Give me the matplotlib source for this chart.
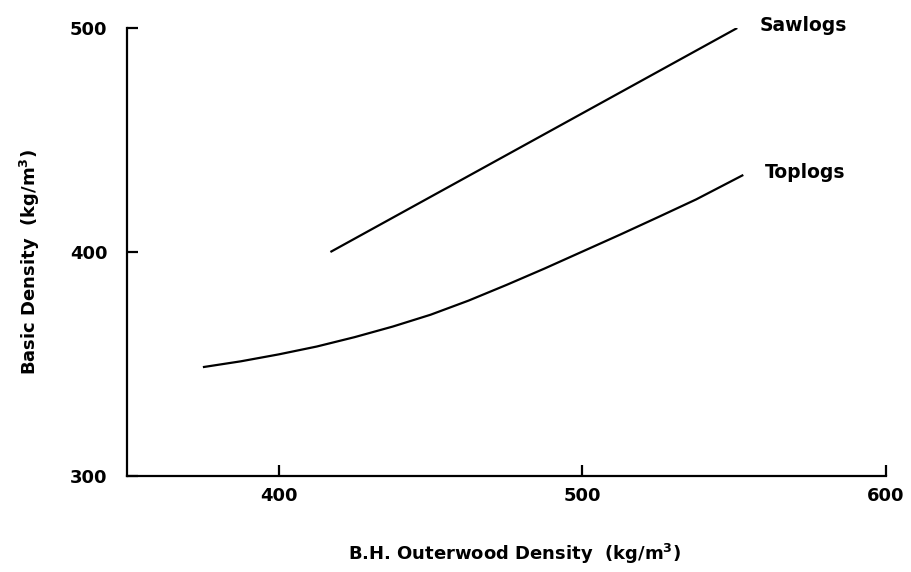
import matplotlib
matplotlib.use("Agg")
import matplotlib.pyplot as plt

# Data
saw_x = [417, 484, 551]
saw_y = [400, 450, 500]

top_x = [375, 387.5, 400, 412.5, 425, 437.5, 450, 462.5, 475, 487.5, 500, 512.5, 525, 537.5, 553]
top_y = [348.6, 351.2, 354.3, 357.8, 362.0, 366.7, 372.0, 378.3, 385.3, 392.6, 400.2, 407.8, 415.6, 423.5, 434.4]

xticks = [400, 500, 600]
yticks = [300, 400, 500]
series_labels = ["Sawlogs", "Toplogs"]

plt.rcParams['font.family'] = ['DejaVu Sans']

fig = plt.figure(figsize=(9.12, 5.72), dpi=100)
ax = fig.add_axes([127/912, 1 - 476/572, (886-127)/912, (476-28)/572])

ax.plot(saw_x, saw_y, color='black', lw=1.6, solid_capstyle='butt')
ax.plot(top_x, top_y, color='black', lw=1.6, solid_capstyle='butt')

ax.text(558.5, 501.3, series_labels[0], fontsize=13.5, fontweight='bold',
        ha='left', va='center', clip_on=False)
ax.text(560, 435.7, series_labels[1], fontsize=13.5, fontweight='bold',
        ha='left', va='center', clip_on=False)

ax.set_xlim(350, 600)
ax.set_ylim(300, 500)
ax.set_xticks(xticks)
ax.set_yticks(yticks)
ax.set_xticklabels([str(v) for v in xticks], fontsize=13, fontweight='bold')
ax.set_yticklabels([str(v) for v in yticks], fontsize=13, fontweight='bold')

for s in ['top', 'right']:
    ax.spines[s].set_visible(False)
for s in ['left', 'bottom']:
    ax.spines[s].set_linewidth(1.6)

ax.tick_params(axis='x', direction='in', length=8, width=1.6, pad=8)
ax.tick_params(axis='y', direction='in', length=8, width=1.6, pad=14)

ax.set_xlabel(r"B.H. Outerwood Density  (kg/m$^\mathbf{3}$)", fontsize=13, fontweight='bold')
ax.set_ylabel(r"Basic Density  (kg/m$^\mathbf{3}$)", fontsize=13, fontweight='bold')
ax.xaxis.set_label_coords(0.511, -0.148)
ax.yaxis.set_label_coords(-0.112, 0.478)

fig.savefig("out.png", dpi=100)
